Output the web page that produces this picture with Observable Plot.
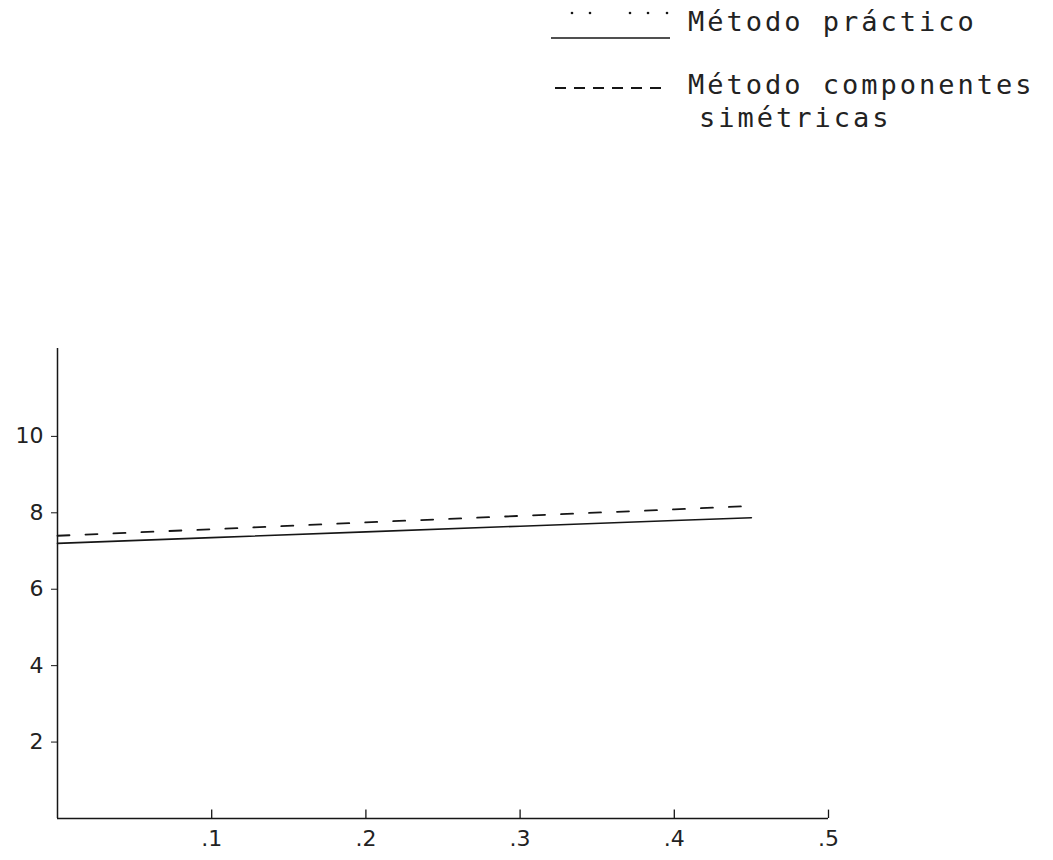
<!DOCTYPE html>
<html><head><meta charset="utf-8">
<script src="https://cdn.jsdelivr.net/npm/d3@7"></script>
<script src="https://cdn.jsdelivr.net/npm/@observablehq/plot@0.6"></script>
<style>
body{margin:0;background:#fff;}
#wrap{position:relative;width:1053px;height:860px;overflow:hidden;}
.leg{position:absolute;font-family:"DejaVu Sans Mono",monospace;font-size:27px;letter-spacing:3px;color:#222;white-space:nowrap;line-height:1;}
.legsvg{position:absolute;left:0;top:0;}
</style></head><body><div id="wrap"></div>
<script>
// Data
const xValues = [0, 0.1, 0.2, 0.3, 0.4, 0.45];
const practico = [7.2, 7.35, 7.5, 7.65, 7.8, 7.87];
const simetricas = [7.4, 7.57, 7.75, 7.92, 8.09, 8.18];
const legendLine1 = "Método práctico";
const legendLine2 = "Método componentes";
const legendLine3 = "simétricas";
const xTicks = [0.1, 0.2, 0.3, 0.4, 0.5];
const xTickLabels = [".1", ".2", ".3", ".4", ".5"];
const yTicks = [2, 4, 6, 8, 10];
const yTickLabels = ["2", "4", "6", "8", "10"];

const solidData = xValues.map((x, i) => ({x, y: practico[i]}));
const dashedData = xValues.map((x, i) => ({x, y: simetricas[i]}));

const ink = "#161616";
const chart = Plot.plot({
  width: 1053, height: 860,
  marginLeft: 57, marginRight: 225, marginTop: 348, marginBottom: 42,
  x: {domain: [0, 0.5]},
  y: {domain: [0, 12.3]},
  style: {fontFamily: "DejaVu Sans", fontSize: "22px", color: "#222", background: "#fff"},
  marks: [
    Plot.ruleX([0], {y1: 0, y2: 12.3, stroke: ink, strokeWidth: 1.5}),
    Plot.ruleY([0], {x1: 0, x2: 0.5, stroke: ink, strokeWidth: 1.5}),
    Plot.axisY({ticks: yTicks, tickFormat: d => yTickLabels[yTicks.indexOf(d)], tickSize: 6, tickPadding: 8, label: null, stroke: ink}),
    Plot.axisX({ticks: xTicks, tickFormat: d => xTickLabels[xTicks.indexOf(d)], tickSize: 0, tickPadding: 12, label: null}),
    Plot.ruleX(xTicks, {y1: 0, y2: 0.22, stroke: ink, strokeWidth: 1.3}),
    Plot.line(solidData, {x: "x", y: "y", stroke: ink, strokeWidth: 1.6}),
    Plot.line(dashedData, {x: "x", y: "y", stroke: ink, strokeWidth: 1.8, strokeDasharray: "12,16"})
  ]
});
const wrap = document.getElementById("wrap");
wrap.appendChild(chart);

// Legend overlay
const ns = "http://www.w3.org/2000/svg";
const lsvg = document.createElementNS(ns, "svg");
lsvg.setAttribute("class", "legsvg");
lsvg.setAttribute("width", 1053);
lsvg.setAttribute("height", 140);
lsvg.innerHTML = `
  <g fill="${ink}">
    <circle cx="572" cy="13" r="1.3"/><circle cx="590" cy="13" r="1.3"/>
    <circle cx="630" cy="13" r="1.3"/><circle cx="648" cy="13" r="1.3"/><circle cx="667" cy="13" r="1.3"/>
  </g>
  <line x1="551" x2="670" y1="38" y2="38" stroke="${ink}" stroke-width="1.6"/>
  <line x1="555" x2="668" y1="88" y2="88" stroke="${ink}" stroke-width="1.8" stroke-dasharray="11,8"/>
`;
wrap.appendChild(lsvg);
function addText(t, left, top) {
  const d = document.createElement("div");
  d.className = "leg";
  d.textContent = t;
  d.style.left = left + "px";
  d.style.top = top + "px";
  wrap.appendChild(d);
}
addText(legendLine1, 688, 8);
addText(legendLine2, 688, 71);
addText(legendLine3, 699, 104);
</script></body></html>
